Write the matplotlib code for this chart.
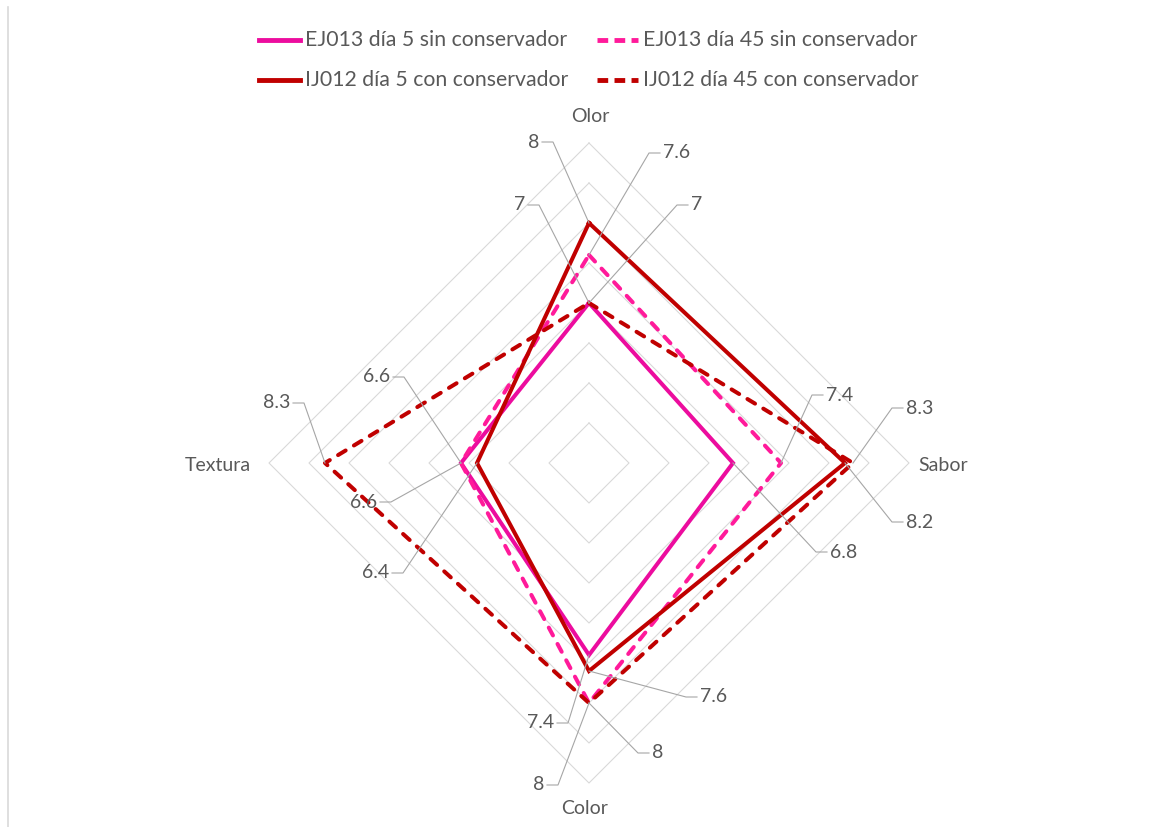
import matplotlib
matplotlib.use("Agg")
import matplotlib.pyplot as plt
import numpy as np
from matplotlib.lines import Line2D
from matplotlib.transforms import IdentityTransform

plt.rcParams["font.family"] = ["Lato", "DejaVu Sans"]

# ── data ────────────────────────────────────
axis_names = ["Olor", "Sabor", "Color", "Textura"]
series_names = ["EJ013 día 5 sin conservador", "EJ013 día 45 sin conservador",
                "IJ012 día 5 con conservador", "IJ012 día 45 con conservador"]
ej013_d5 = [7, 6.8, 7.4, 6.6]
ej013_d45 = [7.6, 7.4, 8, 6.6]
ij012_d5 = [8, 8.2, 7.6, 6.4]
ij012_d45 = [7, 8.3, 8, 8.3]
r_min, r_max, r_step = 5, 9, 0.5

# ── style ────────────────────────────────────
W, H = 1164, 827
PINK = "#EC0C9E"
PINK2 = "#FF1A9A"
DRED = "#C00000"
GRID = "#D9D9D9"
TXT = "#595959"
LEAD = "#A6A6A6"
FS = 14
LEG_FS = 15.3
LW = 2.9

series = [
    (ej013_d5, PINK, "-"),
    (ej013_d45, PINK2, "--"),
    (ij012_d5, DRED, "-"),
    (ij012_d45, DRED, "--"),
]

# label layout (pixel coords): start x of leader, y, direction of leader
label_layout = [
    [(528, 205, +1), (827, 552, -1), (557, 723, +1), (393, 377, +1)],
    [(660, 153, -1), (823, 395, -1), (649, 753, -1), (380, 502, +1)],
    [(542, 142, +1), (903, 522, -1), (697, 697, -1), (392, 573, +1)],
    [(688, 205, -1), (903, 408, -1), (547, 785, +1), (293, 403, +1)],
]

fig = plt.figure(figsize=(W / 100, H / 100), dpi=100)
fig.patch.set_facecolor("white")

cx, cy, R = 589, 463, 320
ax = fig.add_axes([(cx - R) / W, (H - cy - R) / H, 2 * R / W, 2 * R / H],
                  projection="polar")
ax.set_theta_zero_location("N")
ax.set_theta_direction(-1)
ax.set_ylim(r_min, r_max)
ax.grid(False)
ax.set_xticks([])
ax.set_yticks([])
ax.spines["polar"].set_visible(False)
ax.patch.set_visible(False)

theta = np.linspace(0, 2 * np.pi, len(axis_names), endpoint=False)
theta_c = np.append(theta, theta[0])

# rejilla poligonal
for r in np.arange(r_min + r_step, r_max + 0.001, r_step):
    ax.plot(theta_c, [r] * len(theta_c), color=GRID, lw=0.8, zorder=1, clip_on=False)

lines = []
for vals, col, ls in series:
    v = list(vals) + [vals[0]]
    ln, = ax.plot(theta_c, v, color=col, lw=LW, ls=ls, zorder=3, clip_on=False,
                  solid_joinstyle="miter")
    if ls == "--":
        ln.set_dashes((2.2, 2.4))
        ln.set_dash_capstyle("round")
    lines.append(ln)

fig.canvas.draw()

# etiquetas de datos con líneas guía
for (vals, col, ls), layout in zip(series, label_layout):
    for th, v, (lx, ly, d) in zip(theta, vals, layout):
        px, py = ax.transData.transform((th, v))
        hx = lx + d * 11
        fig.add_artist(Line2D([lx, hx, px], [H - ly, H - ly, py],
                              transform=IdentityTransform(), color=LEAD, lw=0.8,
                              zorder=2))
        ha = "right" if d > 0 else "left"
        tx = lx - d * 3
        fig.text(tx / W, 1 - ly / H, f"{v:g}", ha=ha, va="center",
                 fontsize=FS, color=TXT)

# nombres de ejes
fig.text(590 / W, 1 - 116 / H, axis_names[0], ha="center", va="center", fontsize=FS, color=TXT)
fig.text(918 / W, 1 - 465 / H, axis_names[1], ha="left", va="center", fontsize=FS, color=TXT)
fig.text(585 / W, 1 - 808 / H, axis_names[2], ha="center", va="center", fontsize=FS, color=TXT)
fig.text(251 / W, 1 - 465 / H, axis_names[3], ha="right", va="center", fontsize=FS, color=TXT)

# leyenda
leg_pos = [(259, 300, 40), (597, 638, 40), (259, 300, 80), (597, 638, 80)]
for ln, name, (x0, x1, y) in zip(lines, series_names, leg_pos):
    h = Line2D([x0, x1], [H - y, H - y], transform=IdentityTransform(),
               color=ln.get_color(), lw=LW + 0.6)
    if ln.get_linestyle() == "--":
        h.set_dashes((2.2, 1.3))
        h.set_dash_capstyle("butt")
    fig.add_artist(h)
    fig.text((x1 + 5) / W, 1 - y / H, name, ha="left", va="center", fontsize=LEG_FS, color=TXT)

# borde izquierdo
fig.add_artist(Line2D([7.5, 7.5], [0, H - 7], transform=IdentityTransform(),
                      color=GRID, lw=1.2))

fig.savefig("out.png", dpi=100, facecolor="white")
